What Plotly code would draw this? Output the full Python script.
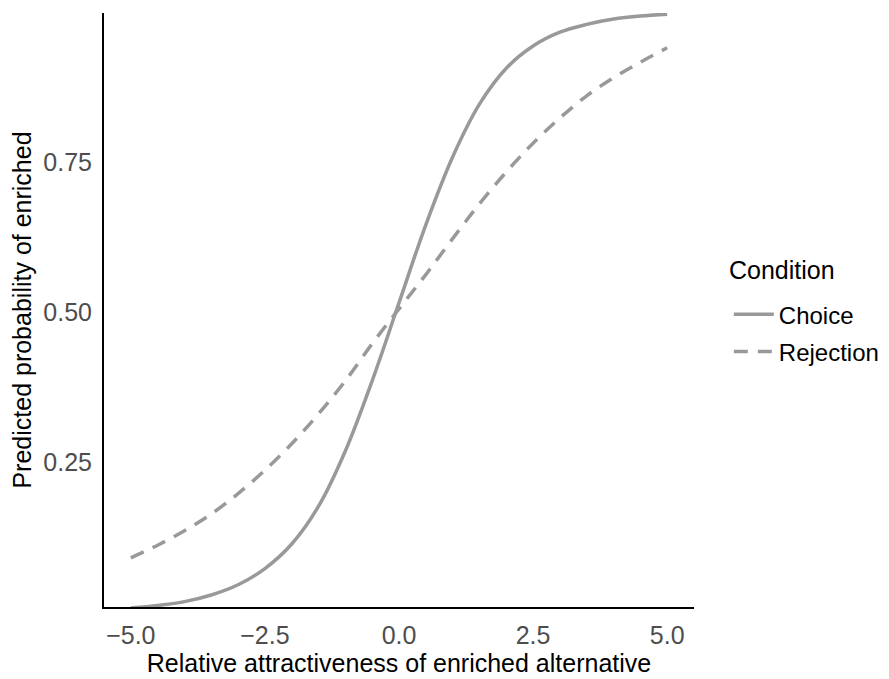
import plotly.graph_objects as go

# Relative attractiveness (x) values
x_vals = [-5.0, -4.5, -4.0, -3.5, -3.0, -2.5, -2.0, -1.5, -1.0, -0.5, 0.0,
          0.5, 1.0, 1.5, 2.0, 2.5, 3.0, 3.5, 4.0, 4.5, 5.0]

# Predicted probability, Choice condition (solid)
choice_vals = [0.0064, 0.0105, 0.017, 0.028, 0.045, 0.072, 0.113, 0.176, 0.268, 0.385, 0.515,
               0.645, 0.758, 0.846, 0.906, 0.943, 0.966, 0.979, 0.988, 0.993, 0.996]

# Predicted probability, Rejection condition (dashed)
rejection_vals = [0.090, 0.111, 0.135, 0.163, 0.197, 0.236, 0.280, 0.330, 0.385, 0.447, 0.505,
                  0.562, 0.622, 0.680, 0.733, 0.781, 0.823, 0.860, 0.890, 0.916, 0.940]

x_ticks = [-5.0, -2.5, 0.0, 2.5, 5.0]
x_tick_labels = ["\u22125.0", "\u22122.5", "0.0", "2.5", "5.0"]
y_ticks = [0.25, 0.50, 0.75]
y_tick_labels = ["0.25", "0.50", "0.75"]

LINE = "#999999"
FONT = "Liberation Sans"

fig = go.Figure()
fig.add_trace(go.Scatter(
    x=x_vals, y=choice_vals, mode="lines", name="Choice",
    line=dict(color=LINE, width=3.5, shape="spline"), legendgroup="a"))
fig.add_trace(go.Scatter(
    x=x_vals, y=rejection_vals, mode="lines", name="Rejection",
    line=dict(color=LINE, width=3.5, shape="spline", dash="14px,10px"), legendgroup="b"))

fig.add_annotation(
    text="Condition", xref="paper", yref="paper", x=1.056, y=0.567,
    xanchor="left", yanchor="middle", showarrow=False,
    font=dict(size=25, color="black", family=FONT))

fig.update_layout(
    width=881, height=671,
    margin=dict(l=96, r=195, t=5, b=72, autoexpand=False),
    paper_bgcolor="white", plot_bgcolor="white",
    font=dict(family=FONT, color="black", size=25),
    legend=dict(
        font=dict(size=24, color="black"),
        x=1.059, xanchor="left", y=0.53, yanchor="top",
        itemwidth=40, tracegroupgap=3, bgcolor="rgba(0,0,0,0)"),
    xaxis=dict(
        range=[-5.5, 5.5], tickvals=x_ticks, ticktext=x_tick_labels,
        showgrid=False, zeroline=False, showline=True, linecolor="black", linewidth=2,
        ticks="", tickfont=dict(size=25, color="#4d4d4d", family=FONT),
        ticklabelstandoff=5,
        title=dict(text="Relative attractiveness of enriched alternative",
                   font=dict(size=25, color="black"), standoff=4)),
    yaxis=dict(
        range=[0.008, 0.998], tickvals=y_ticks, ticktext=y_tick_labels,
        showgrid=False, zeroline=False, showline=True, linecolor="black", linewidth=2,
        ticks="", tickfont=dict(size=25, color="#4d4d4d", family=FONT),
        ticklabelstandoff=5,
        title=dict(text="Predicted probability of enriched",
                   font=dict(size=25, color="black"), standoff=6)),
)

fig.write_html("out.html")
